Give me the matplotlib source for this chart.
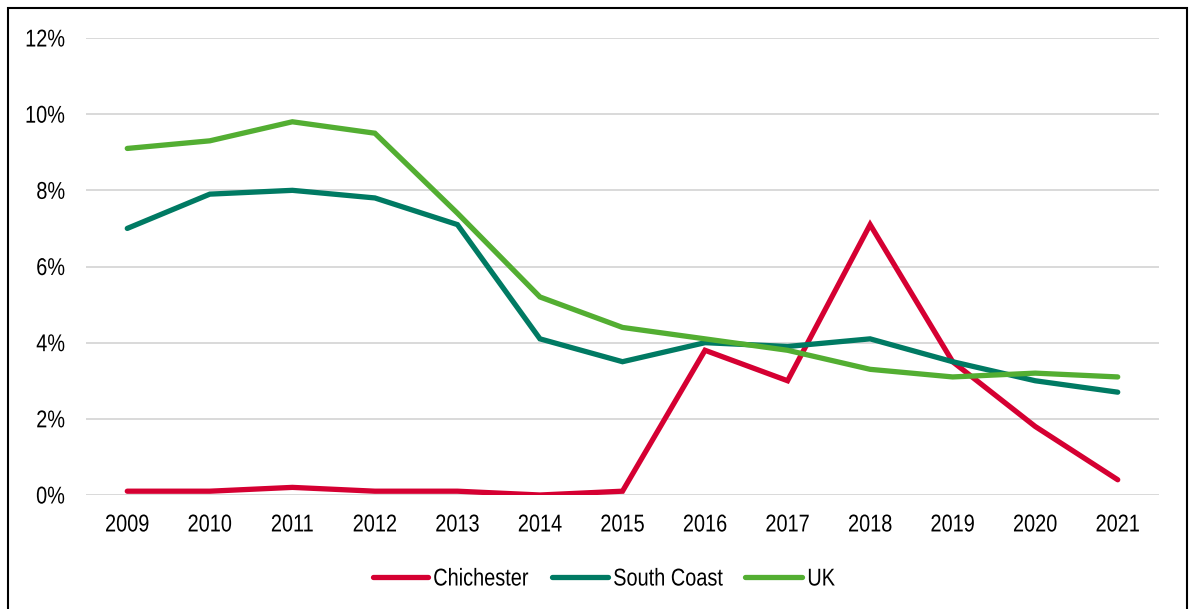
import matplotlib
matplotlib.use("Agg")
import matplotlib.pyplot as plt
from matplotlib.patches import Rectangle
from matplotlib.lines import Line2D
from matplotlib.patheffects import AbstractPathEffect
from matplotlib.transforms import Affine2D
from matplotlib.ticker import FuncFormatter

years = ["2009", "2010", "2011", "2012", "2013", "2014", "2015",
         "2016", "2017", "2018", "2019", "2020", "2021"]
chichester = [0.1, 0.1, 0.2, 0.1, 0.1, 0.0, 0.1, 3.8, 3.0, 7.1, 3.5, 1.8, 0.4]
south_coast = [7.0, 7.9, 8.0, 7.8, 7.1, 4.1, 3.5, 4.0, 3.9, 4.1, 3.5, 3.0, 2.7]
uk = [9.1, 9.3, 9.8, 9.5, 7.4, 5.2, 4.4, 4.1, 3.8, 3.3, 3.1, 3.2, 3.1]

series_names = ["Chichester", "South Coast", "UK"]
series_colors = ["#D50032", "#007A63", "#53AE32"]
series_values = [chichester, south_coast, uk]

plt.rcParams["font.family"] = ["Liberation Sans", "DejaVu Sans"]
FS = 17.5
W, H = 1189, 609


class Condense(AbstractPathEffect):
    """Squeeze glyphs horizontally to imitate a narrow typeface."""

    def __init__(self, sx=0.82, anchor="center"):
        super().__init__()
        self.sx = sx
        self.anchor = anchor

    def draw_path(self, renderer, gc, tpath, affine, rgbFace=None):
        ext = tpath.get_extents()
        if self.anchor == "right":
            a = ext.x1
        elif self.anchor == "left":
            a = ext.x0
        else:
            a = 0.5 * (ext.x0 + ext.x1)
        t = Affine2D().translate(-a, 0).scale(self.sx, 1).translate(a, 0) + affine
        renderer.draw_path(gc, tpath, t, rgbFace)


fig = plt.figure(figsize=(W / 100, H / 100), dpi=100)
ax = fig.add_axes([86 / W, 1 - 495 / H, (1159 - 86) / W, (495 - 38) / H])

x = range(len(years))
for name, vals, color in zip(series_names, series_values, series_colors):
    ax.plot(x, vals, color=color, lw=3.8, label=name,
            solid_capstyle="round", solid_joinstyle="miter", zorder=3)

ax.set_xlim(-0.5, len(years) - 0.5)
ax.set_ylim(0, 12)
ax.set_yticks(range(0, 13, 2))
ax.yaxis.set_major_formatter(FuncFormatter(lambda v, _: f"{v:.0f}%"))
ax.set_xticks(list(x))
ax.set_xticklabels(years)
ax.grid(axis="y", color="#D9D9D9", lw=1.4, zorder=0)
ax.tick_params(axis="both", length=0, labelsize=FS, colors="black")
ax.tick_params(axis="y", pad=15)
ax.tick_params(axis="x", pad=14)
for s in ax.spines.values():
    s.set_visible(False)

for lab in ax.get_yticklabels():
    lab.set_path_effects([Condense(anchor="right")])
for lab in ax.get_xticklabels():
    lab.set_path_effects([Condense(anchor="center")])

# legend row below the axes (pixel layout)
legend_y = 1 - 577 / H
handle_spans = [(373, 428), (552, 608), (745, 802)]
for (x0, x1), name, color in zip(handle_spans, series_names, series_colors):
    fig.add_artist(Line2D([x0 / W, x1 / W], [legend_y, legend_y],
                          transform=fig.transFigure, color=color, lw=3.8,
                          solid_capstyle="round"))
    t = fig.text((x1 + 5) / W, legend_y, name, fontsize=FS, ha="left",
                 va="center_baseline", color="black")
    t.set_path_effects([Condense(anchor="left")])

# figure frame
fig.patches.append(Rectangle((8 / W, -0.05), (1187 - 8) / W, 1.05 - 8 / H,
                             transform=fig.transFigure, fill=False,
                             edgecolor="black", lw=1.5))

fig.savefig("out.png", dpi=100)
